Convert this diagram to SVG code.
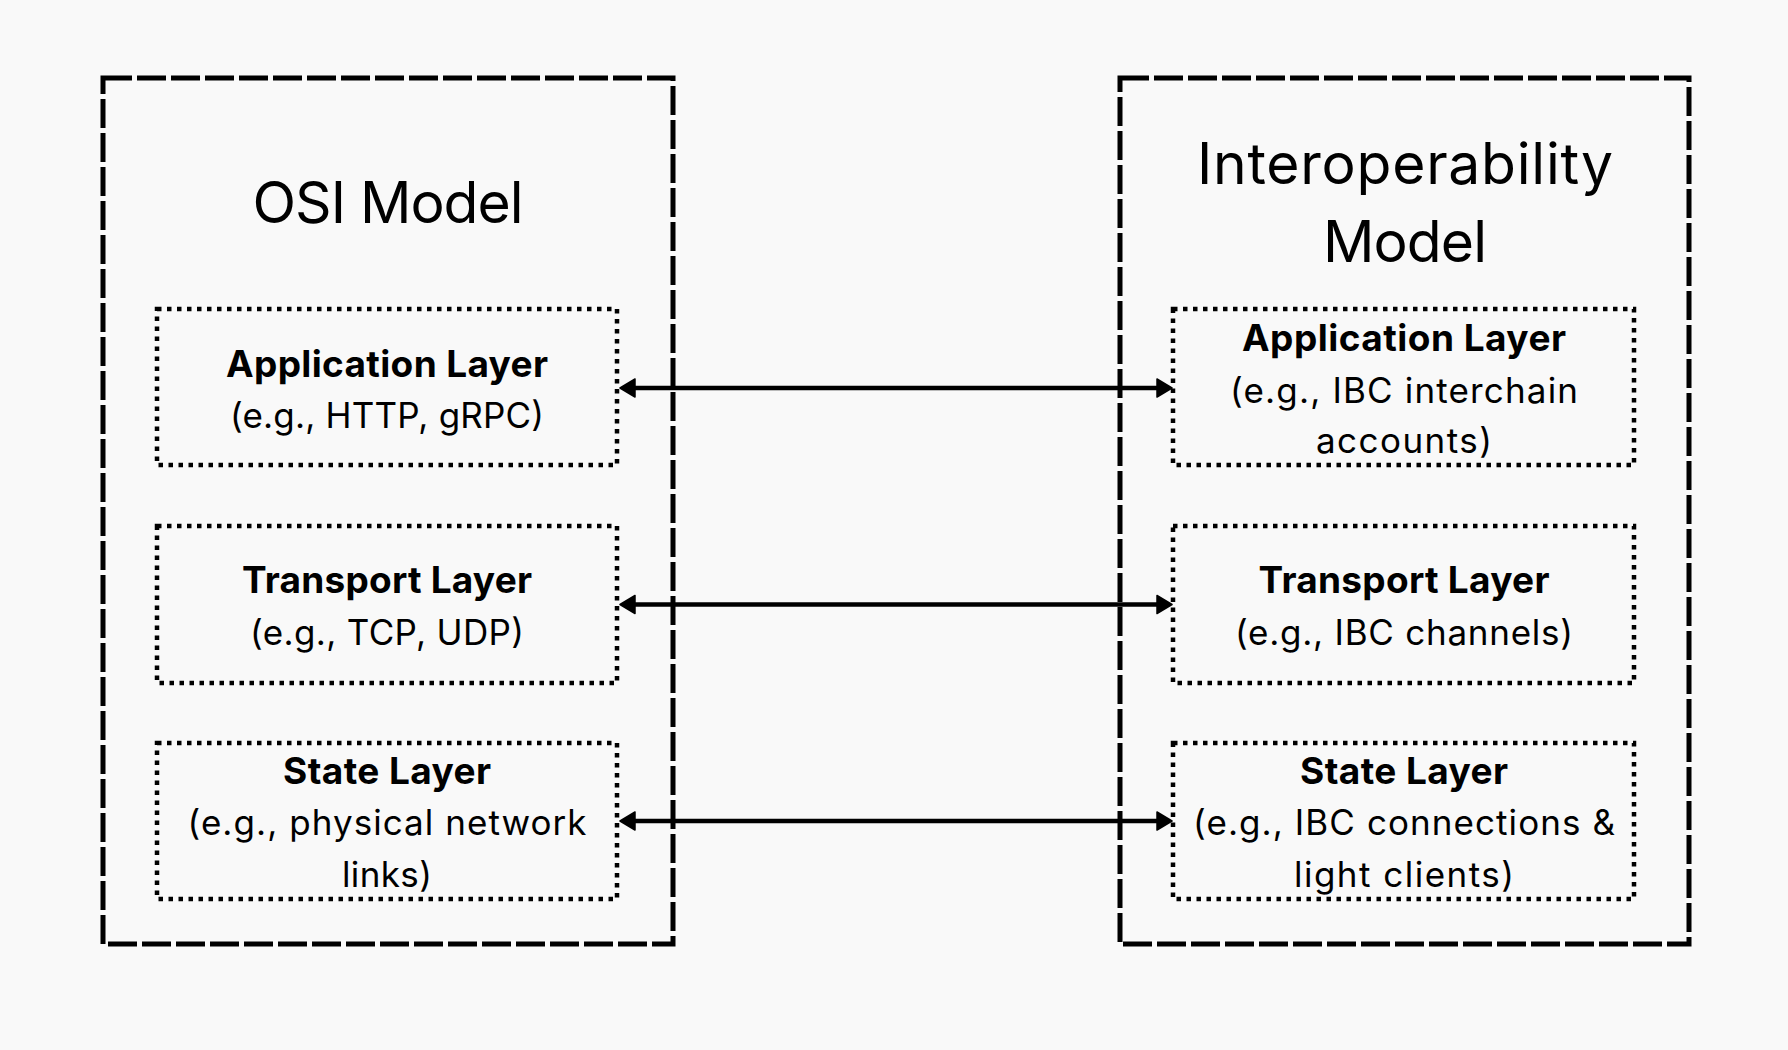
<svg xmlns="http://www.w3.org/2000/svg" width="1788" height="1050" viewBox="0 0 1788 1050">
  <style>
    .outer { fill: none; stroke: #000; stroke-width: 5; stroke-dasharray: 29 5; }
    .inner { fill: none; stroke: #000; stroke-width: 4.5; stroke-dasharray: 4.5 5.5; }
    .title { font-family: Inter, "Liberation Sans", sans-serif; font-size: 57px; fill: #000; text-anchor: middle; }
    .head { font-family: Inter, "Liberation Sans", sans-serif; font-size: 37px; font-weight: 700; fill: #000; text-anchor: middle; }
    .body { font-family: Inter, "Liberation Sans", sans-serif; font-size: 35px; fill: #000; text-anchor: middle; }
    .conn { stroke: #000; stroke-width: 4.5; fill: none; }
  </style>
  <defs>
    <marker id="arrow" markerUnits="userSpaceOnUse" viewBox="0 0 17 21" markerWidth="17" markerHeight="21" refX="12" refY="10.5" orient="auto-start-reverse">
      <path d="M1,1.5 L16,10.5 L1,19.5 Z" fill="#000" stroke="#000" stroke-width="1.5" stroke-linejoin="round"/>
    </marker>
  </defs>
  <rect width="1788" height="1050" fill="#f9f9f9"/>

  <g id="osi-model">
    <rect class="outer" x="103" y="78" width="570" height="866"/>
    <text class="title" x="388" y="222.5" textLength="271" lengthAdjust="spacing">OSI Model</text>
  </g>
  <g id="interop-model">
    <rect class="outer" x="1120" y="78" width="569" height="866"/>
    <text class="title" x="1405" y="184" textLength="416" lengthAdjust="spacing">Interoperability</text>
    <text class="title" x="1405" y="261.7" textLength="164" lengthAdjust="spacing">Model</text>
  </g>

  <g id="osi-application">
    <rect class="inner" x="157" y="309" width="460" height="156"/>
    <text class="head" x="387" y="377.3" textLength="322" lengthAdjust="spacing">Application Layer</text>
    <text class="body" x="387" y="428.3" textLength="314" lengthAdjust="spacing">(e.g., HTTP, gRPC)</text>
  </g>
  <g id="osi-transport">
    <rect class="inner" x="157" y="526" width="460" height="157"/>
    <text class="head" x="387" y="593.3" textLength="290" lengthAdjust="spacing">Transport Layer</text>
    <text class="body" x="387" y="645" textLength="274" lengthAdjust="spacing">(e.g., TCP, UDP)</text>
  </g>
  <g id="osi-state">
    <rect class="inner" x="157" y="743" width="460" height="156"/>
    <text class="head" x="387" y="784.3" textLength="208" lengthAdjust="spacing">State Layer</text>
    <text class="body" x="387" y="835" textLength="399" lengthAdjust="spacing">(e.g., physical network</text>
    <text class="body" x="387" y="886.7" textLength="90" lengthAdjust="spacing">links)</text>
  </g>

  <g id="interop-application">
    <rect class="inner" x="1173" y="309" width="461" height="156"/>
    <text class="head" x="1404" y="351" textLength="324" lengthAdjust="spacing">Application Layer</text>
    <text class="body" x="1404" y="403" textLength="348" lengthAdjust="spacing">(e.g., IBC interchain</text>
    <text class="body" x="1404" y="452.7" textLength="176" lengthAdjust="spacing">accounts)</text>
  </g>
  <g id="interop-transport">
    <rect class="inner" x="1173" y="526" width="461" height="157"/>
    <text class="head" x="1404" y="593.3" textLength="291" lengthAdjust="spacing">Transport Layer</text>
    <text class="body" x="1404" y="645" textLength="338" lengthAdjust="spacing">(e.g., IBC channels)</text>
  </g>
  <g id="interop-state">
    <rect class="inner" x="1173" y="743" width="461" height="156"/>
    <text class="head" x="1404" y="784.3" textLength="208" lengthAdjust="spacing">State Layer</text>
    <text class="body" x="1404" y="835" textLength="422" lengthAdjust="spacing">(e.g., IBC connections &amp;</text>
    <text class="body" x="1404" y="886.7" textLength="220" lengthAdjust="spacing">light clients)</text>
  </g>

  <g id="connectors">
    <line class="conn" x1="624" y1="388" x2="1168" y2="388" marker-start="url(#arrow)" marker-end="url(#arrow)"/>
    <line class="conn" x1="624" y1="604.5" x2="1168" y2="604.5" marker-start="url(#arrow)" marker-end="url(#arrow)"/>
    <line class="conn" x1="624" y1="821" x2="1168" y2="821" marker-start="url(#arrow)" marker-end="url(#arrow)"/>
  </g>
</svg>
